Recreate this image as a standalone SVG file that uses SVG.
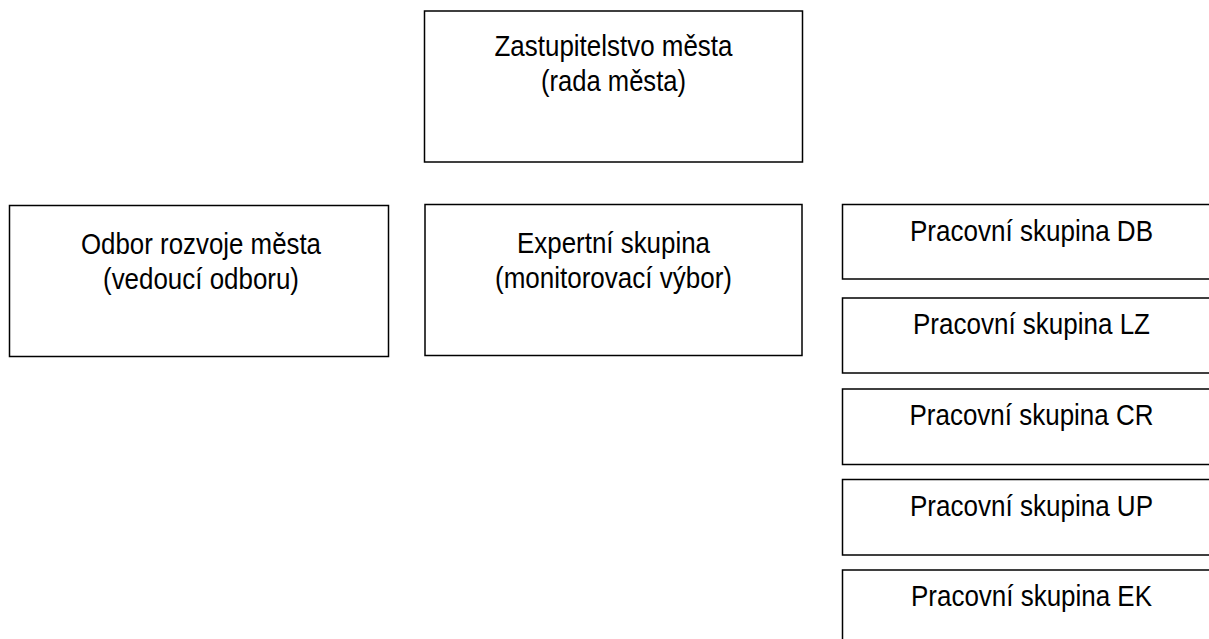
<svg xmlns="http://www.w3.org/2000/svg" width="1209" height="639" viewBox="0 0 1209 639">
<style>
.box{fill:#fff;stroke:#000;stroke-width:1.5}
.t{font-family:"Liberation Sans",Arial,sans-serif;font-size:29px;fill:#000;text-anchor:middle}
</style>
<rect width="1209" height="639" fill="#fff"/>
<g id="connectors"></g>
<g id="zastupitelstvo">
<rect class="box" x="424.5" y="11" width="378" height="151"/>
<text class="t" x="613.5" y="56" textLength="238" lengthAdjust="spacingAndGlyphs">Zastupitelstvo města</text>
<text class="t" x="613.5" y="91" textLength="145" lengthAdjust="spacingAndGlyphs">(rada města)</text>
</g>
<g id="odbor">
<rect class="box" x="9.5" y="205.5" width="379" height="151"/>
<text class="t" x="201" y="254" textLength="240" lengthAdjust="spacingAndGlyphs">Odbor rozvoje města</text>
<text class="t" x="201" y="289" textLength="196" lengthAdjust="spacingAndGlyphs">(vedoucí odboru)</text>
</g>
<g id="expertni">
<rect class="box" x="425" y="204.5" width="377" height="151"/>
<text class="t" x="613.5" y="253" textLength="193" lengthAdjust="spacingAndGlyphs">Expertní skupina</text>
<text class="t" x="613.5" y="288" textLength="237" lengthAdjust="spacingAndGlyphs">(monitorovací výbor)</text>
</g>
<g id="ps-db">
<rect class="box" x="842.5" y="204.5" width="378" height="74.5"/>
<text class="t" x="1031.5" y="241" textLength="243" lengthAdjust="spacingAndGlyphs">Pracovní skupina DB</text>
</g>
<g id="ps-lz">
<rect class="box" x="842.5" y="298" width="378" height="75"/>
<text class="t" x="1031.5" y="334" textLength="237" lengthAdjust="spacingAndGlyphs">Pracovní skupina LZ</text>
</g>
<g id="ps-cr">
<rect class="box" x="842.5" y="389" width="378" height="75.5"/>
<text class="t" x="1031.5" y="425" textLength="244" lengthAdjust="spacingAndGlyphs">Pracovní skupina CR</text>
</g>
<g id="ps-up">
<rect class="box" x="842.5" y="479.5" width="378" height="75.5"/>
<text class="t" x="1031.5" y="516" textLength="243" lengthAdjust="spacingAndGlyphs">Pracovní skupina UP</text>
</g>
<g id="ps-ek">
<rect class="box" x="842.5" y="570" width="378" height="76"/>
<text class="t" x="1031.5" y="606" textLength="241" lengthAdjust="spacingAndGlyphs">Pracovní skupina EK</text>
</g>
</svg>
